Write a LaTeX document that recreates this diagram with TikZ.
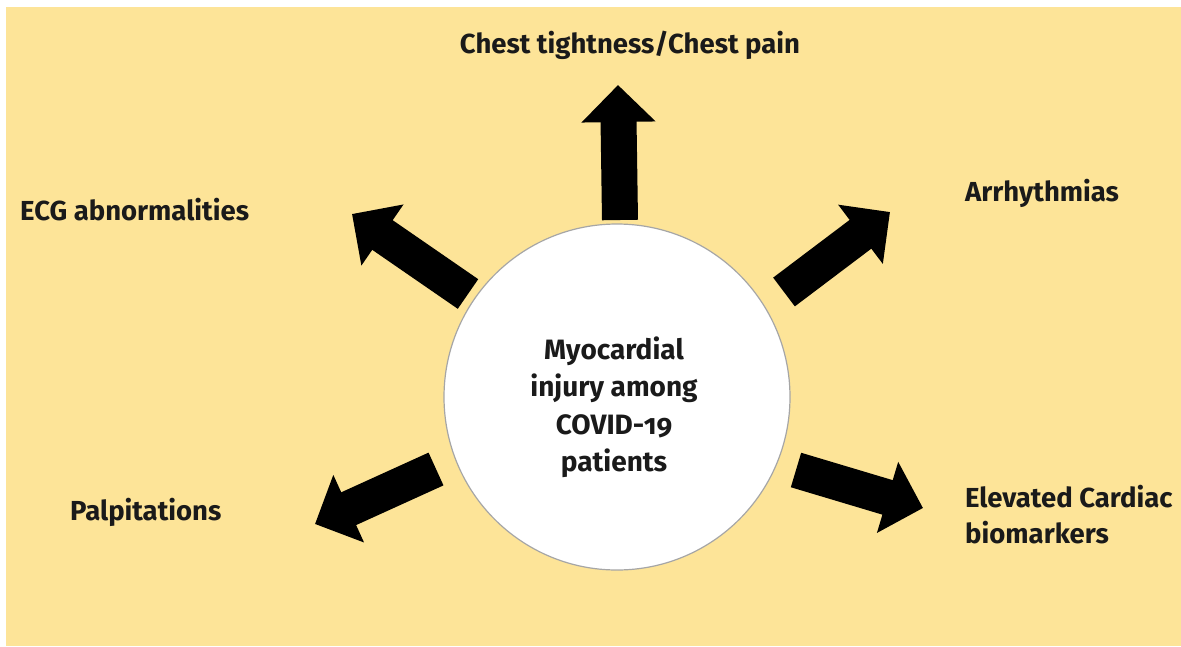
\documentclass[tikz,border=0pt]{standalone}
\usepackage{fontspec}
\setmainfont{Fira Sans}[Numbers=OldStyle]
\usetikzlibrary{arrows.meta, positioning}
\definecolor{bgYellow}{HTML}{FDE498}
\definecolor{labelInk}{HTML}{1A1A1A}
\begin{document}
\begin{tikzpicture}[
        x=1pt, y=-1pt,
        hubNode/.style={circle, draw=gray!70, fill=white, line width=1.2pt, minimum size=346pt, inner sep=0pt},
        hubText/.style={align=center, font=\bfseries\fontsize{28}{37.5}\selectfont, text=labelInk},
        labelNode/.style={anchor=west, align=left, inner sep=0pt, font=\bfseries\fontsize{27.5}{36}\selectfont, text=labelInk},
        blockArrow/.style={line width=36pt, black, -{Triangle[length=37pt, width=72pt]}}
    ]
        \useasboundingbox (0,0) rectangle (1181,646);
        \fill[bgYellow] (6,7) rectangle (1181,646);

        \node[hubNode] (hub) at (617,397) {};
        \node[hubText] (hubLabel) at (614,407) {Myocardial\\injury among\\COVID-19\\patients};

        \node[labelNode, anchor=center] (chest) at (630,45) {Chest tightness/Chest pain};
        \node[labelNode] (ecg) at (20,210) {ECG abnormalities};
        \node[labelNode] (arrh) at (965,193) {Arrhythmias};
        \node[labelNode] (palp) at (70,512) {Palpitations};
        \node[labelNode] (elev) at (965,515) {Elevated Cardiac\\biomarkers};

        \coordinate (chestTail) at (620,220);
        \coordinate (chestTip) at (618,85);
        \coordinate (ecgTail) at (468,294);
        \coordinate (ecgTip) at (352,214);
        \coordinate (arrhTail) at (784,292);
        \coordinate (arrhTip) at (890,212);
        \coordinate (elevTail) at (796,470);
        \coordinate (elevTip) at (923,508);
        \coordinate (palpTail) at (436,469);
        \coordinate (palpTip) at (315,524);

        \draw[blockArrow] (chestTail) -- (chestTip);
        \draw[blockArrow] (ecgTail) -- (ecgTip);
        \draw[blockArrow] (arrhTail) -- (arrhTip);
        \draw[blockArrow] (elevTail) -- (elevTip);
        \draw[blockArrow] (palpTail) -- (palpTip);
    \end{tikzpicture}
\end{document}
